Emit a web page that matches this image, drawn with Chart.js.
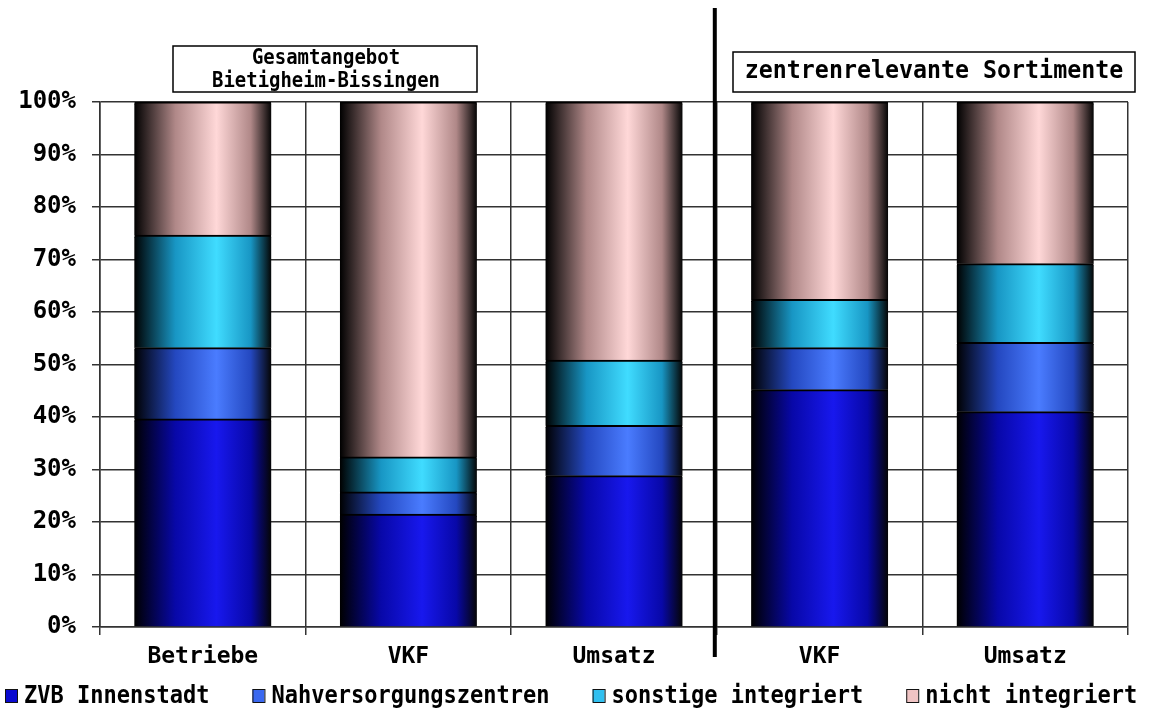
<!DOCTYPE html>
<html>
<head>
<meta charset="utf-8">
<script src="https://cdn.jsdelivr.net/npm/chart.js@4.4.1/dist/chart.umd.min.js"></script>
<style>
  html, body { margin: 0; padding: 0; background: #fff; }
  #wrap { width: 1153px; height: 713px; position: relative; }
</style>
</head>
<body>
<div id="wrap"><canvas id="lageChart"></canvas></div>
<script>
// Anteile in Prozent je Lagetyp
const categories = ["Betriebe", "VKF", "Umsatz", "VKF", "Umsatz"];
const seriesNames = ["ZVB Innenstadt", "Nahversorgungszentren", "sonstige integriert", "nicht integriert"];
const zvbInnenstadt = [39.6, 21.5, 28.8, 45.2, 41.0];
const nahversorgung = [13.6, 4.2, 9.6, 8.0, 13.2];
const sonstigeIntegriert = [21.4, 6.7, 12.4, 9.2, 15.0];
const nichtIntegriert = [25.4, 67.6, 49.2, 37.6, 30.8];
const yTicks = ["0%", "10%", "20%", "30%", "40%", "50%", "60%", "70%", "80%", "90%", "100%"];

const fontFam = "'DejaVu Sans Mono', monospace";
const BAR_PCT = 0.666;
const legendFills = ["#0a0ad0", "#3a68f0", "#30c0f0", "#f0c4c4"];

// cylinder-like shading across each bar
function barGradient(mid, light) {
    return function (context) {
        const chart = context.chart;
        const xs = chart.scales.x;
        if (!xs || !chart.chartArea) return mid;
        const cx = xs.getPixelForValue(context.dataIndex);
        const w = (xs.width / categories.length) * BAR_PCT;
        const g = chart.ctx.createLinearGradient(cx - w / 2, 0, cx + w / 2, 0);
        g.addColorStop(0, "#000000");
        g.addColorStop(0.3, mid);
        g.addColorStop(0.6, light);
        g.addColorStop(0.85, mid);
        g.addColorStop(1, "#050505");
        return g;
    };
}

// text squeezed horizontally (the original font is narrow and tall)
function narrowText(ctx, text, x, y, sx, align) {
    ctx.save();
    ctx.translate(x, y);
    ctx.scale(sx, 1);
    ctx.textAlign = align;
    ctx.fillText(text, 0, 0);
    ctx.restore();
    return ctx.measureText(text).width * sx;
}

const decorPlugin = {
    id: "decor",
    afterDraw(chart) {
        const ctx = chart.ctx;
        const xs = chart.scales.x;
        const area = chart.chartArea;
        ctx.save();
        // thick divider between the two groups
        const xDiv = (xs.getPixelForValue(2) + xs.getPixelForValue(3)) / 2 - 2;
        ctx.strokeStyle = "#000";
        ctx.lineWidth = 4;
        ctx.beginPath();
        ctx.moveTo(xDiv, 8);
        ctx.lineTo(xDiv, area.bottom + 30);
        ctx.stroke();

        // header boxes
        ctx.lineWidth = 1.5;
        ctx.textBaseline = "middle";
        ctx.fillStyle = "#fff";
        ctx.fillRect(173, 46, 304, 46);
        ctx.strokeRect(173, 46, 304, 46);
        ctx.fillStyle = "#000";
        ctx.font = "bold 22px " + fontFam;
        narrowText(ctx, "Gesamtangebot", 326, 58, 0.86, "center");
        narrowText(ctx, "Bietigheim-Bissingen", 326, 81, 0.86, "center");

        ctx.fillStyle = "#fff";
        ctx.fillRect(733, 52, 402, 40);
        ctx.strokeRect(733, 52, 402, 40);
        ctx.fillStyle = "#000";
        ctx.font = "bold 24px " + fontFam;
        narrowText(ctx, "zentrenrelevante Sortimente", 934, 72, 0.97, "center");

        // legend in one row
        ctx.font = "bold 25px " + fontFam;
        let x = 5;
        const yMid = 696;
        seriesNames.forEach((name, i) => {
            ctx.fillStyle = legendFills[i];
            ctx.fillRect(x, yMid - 7, 12, 13);
            ctx.strokeStyle = "#111";
            ctx.lineWidth = 1;
            ctx.strokeRect(x + 0.5, yMid - 6.5, 12, 13);
            ctx.fillStyle = "#000";
            const w = narrowText(ctx, name, x + 19, yMid, 0.88, "left");
            x += 19 + w + 43;
        });
        ctx.restore();
    }
};

const ctx = document.getElementById("lageChart").getContext("2d");
const lageChart = new Chart(ctx, {
    type: "bar",
    data: {
        labels: categories,
        datasets: [
            { label: seriesNames[0], data: zvbInnenstadt, backgroundColor: barGradient("#0808a8", "#1818ee") },
            { label: seriesNames[1], data: nahversorgung, backgroundColor: barGradient("#2448c0", "#4a7cff") },
            { label: seriesNames[2], data: sonstigeIntegriert, backgroundColor: barGradient("#1896c4", "#40dcff") },
            { label: seriesNames[3], data: nichtIntegriert, backgroundColor: barGradient("#b08888", "#ffd8d8") }
        ].map(d => Object.assign(d, {
            borderColor: "#000",
            borderWidth: { top: 2, bottom: 0, left: 0, right: 0 },
            borderSkipped: false,
            inflateAmount: 0.5,
            categoryPercentage: BAR_PCT,
            barPercentage: 1
        }))
    },
    options: {
        responsive: true,
        maintainAspectRatio: false,
        animation: false,
        layout: { padding: { top: 102, right: 25, left: 4, bottom: 0 } },
        scales: {
            x: {
                stacked: true,
                afterFit: (s) => { s.height = 86; },
                grid: { color: "#333", lineWidth: 1.5, tickLength: 8, offset: true },
                border: { color: "#333", width: 1.5 },
                ticks: { color: "#000", font: { family: fontFam, size: 23, weight: "bold" }, padding: 8 }
            },
            y: {
                stacked: true,
                min: 0,
                max: 100,
                afterFit: (s) => { s.width = 96; },
                grid: { color: "#333", lineWidth: 1.5, tickLength: 8 },
                border: { color: "#333", width: 1.5 },
                ticks: {
                    stepSize: 10,
                    color: "#000",
                    padding: 16,
                    font: { family: fontFam, size: 24, weight: "bold" },
                    callback: (v) => yTicks[Math.round(v / 10)]
                }
            }
        },
        plugins: {
            legend: { display: false },
            tooltip: { enabled: false }
        }
    },
    plugins: [decorPlugin]
});
</script>
</body>
</html>
